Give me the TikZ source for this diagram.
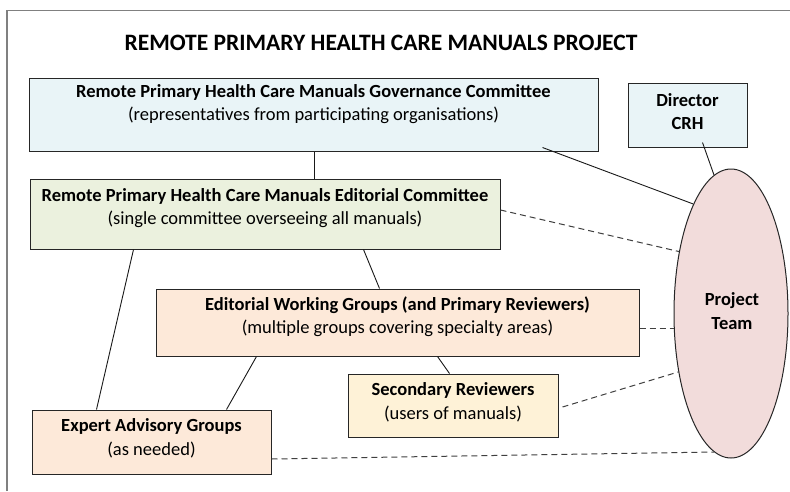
\documentclass[tikz,border=0pt]{standalone}
\usepackage{fontspec}
\setmainfont{Carlito}
\usetikzlibrary{calc,shapes.geometric}
\definecolor{govfill}{HTML}{E9F4F7}
\definecolor{edfill}{HTML}{EBF1DE}
\definecolor{peach}{HTML}{FDE9D9}
\definecolor{cream}{HTML}{FEF2D7}
\definecolor{pinkfill}{HTML}{F2DCDB}
\definecolor{framegray}{HTML}{808080}
\tikzset{
  boxnode/.style={draw=black!85, line width=1pt, rectangle, inner sep=0pt},
  txt/.style={align=center, inner sep=0pt, font=\fontsize{18.5}{23.5}\selectfont},
  link/.style={draw=black!90, line width=0.9pt},
  dlink/.style={draw=black!75, line width=1pt, dash pattern=on 6pt off 4pt},
}
\begin{document}
\begin{tikzpicture}[x=1pt,y=-1pt]
\useasboundingbox (0,0) rectangle (790,491);
\fill[white] (0,0) rectangle (790,491);
% frame
\draw[framegray, line width=1.5pt] (7,491) -- (7,10.5) -- (790,10.5);
% title
\node[inner sep=0pt, font=\fontsize{23.5}{26}\selectfont\bfseries] (title) at (381,43) {REMOTE PRIMARY HEALTH CARE MANUALS PROJECT};
% boxes
\node[boxnode, fill=govfill, minimum width=569pt, minimum height=73pt] (gov) at (313.5,114.5) {};
\node[txt] (govt) at (313.5,104) {\textbf{Remote Primary Health Care Manuals Governance Committee}\\(representatives from participating organisations)};
\node[boxnode, fill=govfill, minimum width=119pt, minimum height=64pt] (dir) at (687.5,115) {};
\node[txt] (dirt) at (687.5,111.5) {\textbf{Director}\\\textbf{CRH}};
\node[boxnode, fill=edfill, minimum width=470pt, minimum height=70pt] (edit) at (265,214) {};
\node[txt] (editt) at (265,208) {\textbf{Remote Primary Health Care Manuals Editorial Committee}\\(single committee overseeing all manuals)};
\node[boxnode, fill=peach, minimum width=483pt, minimum height=67pt] (ewg) at (397.5,322.5) {};
\node[txt] (ewgt) at (397.5,316.5) {\textbf{Editorial Working Groups (and Primary Reviewers)}\\(multiple groups covering specialty areas)};
\node[boxnode, fill=cream, minimum width=210pt, minimum height=63pt] (sec) at (453,405.5) {};
\node[txt] (sect) at (453,402.5) {\textbf{Secondary Reviewers}\\(users of manuals)};
\node[boxnode, fill=peach, minimum width=239pt, minimum height=64pt] (exp) at (151.5,442) {};
\node[txt] (expt) at (151.5,438.5) {\textbf{Expert Advisory Groups}\\(as needed)};
\node[ellipse, draw=black!85, line width=1pt, fill=pinkfill, inner sep=0pt, minimum width=114pt, minimum height=289pt] (ell) at (731,313.5) {};
\node[txt] (ellt) at (732,311) {\textbf{Project}\\\textbf{Team}};
% solid connectors
\draw[link] ($(gov.south west)+(286,0)$) -- ($(edit.north west)+(285,0)$);
\draw[link] ($(gov.south west)+(514,-4)$) -- (ell.109);
\draw[link] ($(dir.south west)+(75,-5)$) -- (ell.97.5);
\draw[link] ($(edit.south west)+(334,0)$) -- ($(ewg.north west)+(224,0)$);
\draw[link] ($(edit.south west)+(104,0)$) -- ($(exp.north west)+(65,0)$);
\draw[link] ($(ewg.south west)+(101,0)$) -- ($(exp.north west)+(195,0)$);
\draw[link] ($(ewg.south west)+(282,0)$) -- ($(sec.north west)+(102,0)$);
% dashed connectors
\draw[dlink] ($(edit.east)+(0,-4)$) -- (ell.130);
\draw[dlink] ($(ewg.east)+(0,5.5)$) -- ($(ell.west)+(0.3,14.5)$);
\draw[dlink] ($(sec.east)+(4,1.5)$) -- (ell.228.7);
\draw[dlink] ($(exp.east)+(0,17)$) -- (ell.263.2);
\end{tikzpicture}
\end{document}
